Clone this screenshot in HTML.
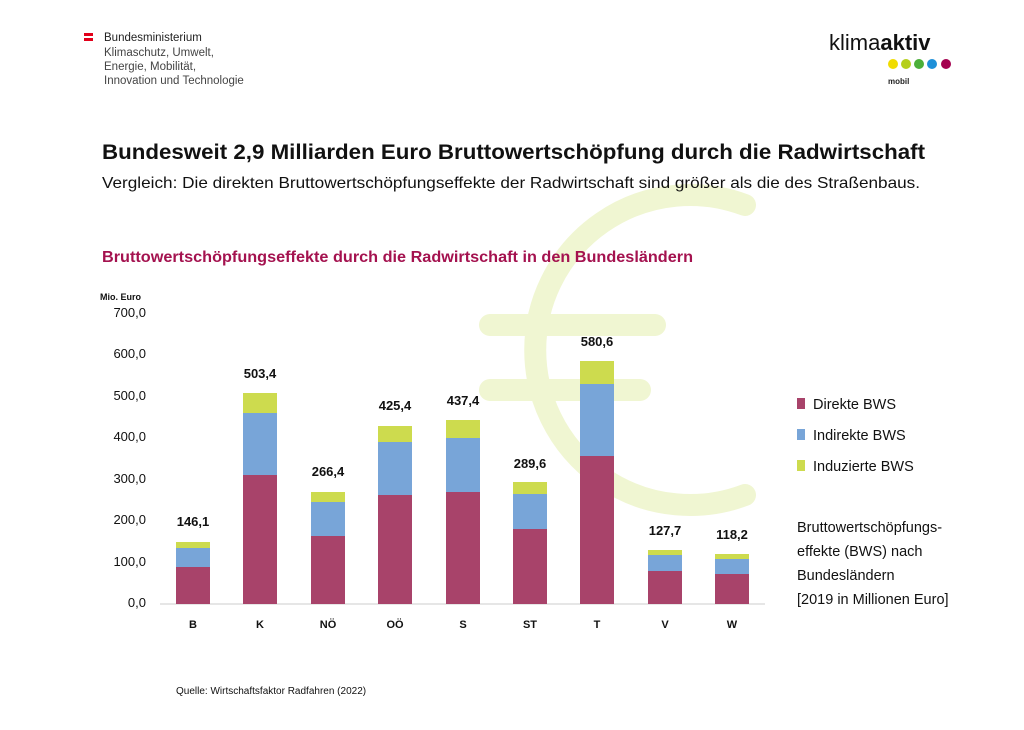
<!DOCTYPE html>
<html><head><meta charset="utf-8"><style>
body{margin:0;width:1024px;height:725px;background:#fff;overflow:hidden;font-family:"Liberation Sans",sans-serif}
</style></head><body>
<svg width="1024" height="725" xmlns="http://www.w3.org/2000/svg" font-family="Liberation Sans, sans-serif">
<g fill="none" stroke="#f0f6d2" stroke-width="22" stroke-linecap="round">
<path d="M745,205 A155,155 0 1 0 745,495"/>
<line x1="490" y1="325" x2="655" y2="325"/>
<line x1="490" y1="390" x2="640" y2="390"/>
</g>
<rect x="84" y="33" width="9" height="3" fill="#e2001a"/>
<rect x="84" y="38" width="9" height="3" fill="#e2001a"/>
<text x="104" y="41" font-size="11.5" fill="#222">Bundesministerium</text>
<text x="104" y="56" font-size="11.5" fill="#444">Klimaschutz, Umwelt,</text>
<text x="104" y="70" font-size="11.5" fill="#444">Energie, Mobilität,</text>
<text x="104" y="84" font-size="11.5" fill="#444">Innovation und Technologie</text>
<text x="829" y="50" font-size="22" fill="#111">klima<tspan font-weight="bold">aktiv</tspan></text>
<circle cx="893" cy="64" r="5" fill="#f0dc00"/><circle cx="906" cy="64" r="5" fill="#b5cf1a"/>
<circle cx="919" cy="64" r="5" fill="#4caf3a"/><circle cx="932" cy="64" r="5" fill="#1e90d8"/>
<circle cx="946" cy="64" r="5" fill="#a4004f"/>
<text x="888" y="84" font-size="8" fill="#222" font-weight="bold">mobil</text>
<text x="102" y="159" font-size="21" font-weight="bold" fill="#111" textLength="823" lengthAdjust="spacingAndGlyphs">Bundesweit 2,9 Milliarden Euro Bruttowertschöpfung durch die Radwirtschaft</text>
<text x="102" y="188" font-size="16" fill="#111" textLength="818" lengthAdjust="spacingAndGlyphs">Vergleich: Die direkten Bruttowertschöpfungseffekte der Radwirtschaft sind größer als die des Straßenbaus.</text>
<text x="102" y="262" font-size="15.5" font-weight="bold" fill="#a4124f" textLength="591" lengthAdjust="spacingAndGlyphs">Bruttowertschöpfungseffekte durch die Radwirtschaft in den Bundesländern</text>
<text x="100" y="300" font-size="9" font-weight="bold" fill="#111">Mio. Euro</text>
<g font-size="13" fill="#111" text-anchor="end">
<text x="146" y="317">700,0</text><text x="146" y="358">600,0</text><text x="146" y="400">500,0</text>
<text x="146" y="441">400,0</text><text x="146" y="483">300,0</text><text x="146" y="524">200,0</text>
<text x="146" y="566">100,0</text><text x="146" y="607">0,0</text>
</g>
<line x1="160" y1="604" x2="765" y2="604" stroke="#ddd" stroke-width="1.5"/>
<g>
<rect x="176" y="542" width="34" height="62" fill="#cddb4e"/><rect x="176" y="548" width="34" height="56" fill="#78a5d8"/><rect x="176" y="567" width="34" height="37" fill="#a8436a"/>
<rect x="243" y="393" width="34" height="211" fill="#cddb4e"/><rect x="243" y="413" width="34" height="191" fill="#78a5d8"/><rect x="243" y="475" width="34" height="129" fill="#a8436a"/>
<rect x="311" y="492" width="34" height="112" fill="#cddb4e"/><rect x="311" y="502" width="34" height="102" fill="#78a5d8"/><rect x="311" y="536" width="34" height="68" fill="#a8436a"/>
<rect x="378" y="426" width="34" height="178" fill="#cddb4e"/><rect x="378" y="442" width="34" height="162" fill="#78a5d8"/><rect x="378" y="495" width="34" height="109" fill="#a8436a"/>
<rect x="446" y="420" width="34" height="184" fill="#cddb4e"/><rect x="446" y="438" width="34" height="166" fill="#78a5d8"/><rect x="446" y="492" width="34" height="112" fill="#a8436a"/>
<rect x="513" y="482" width="34" height="122" fill="#cddb4e"/><rect x="513" y="494" width="34" height="110" fill="#78a5d8"/><rect x="513" y="529" width="34" height="75" fill="#a8436a"/>
<rect x="580" y="361" width="34" height="243" fill="#cddb4e"/><rect x="580" y="384" width="34" height="220" fill="#78a5d8"/><rect x="580" y="456" width="34" height="148" fill="#a8436a"/>
<rect x="648" y="550" width="34" height="54" fill="#cddb4e"/><rect x="648" y="555" width="34" height="49" fill="#78a5d8"/><rect x="648" y="571" width="34" height="33" fill="#a8436a"/>
<rect x="715" y="554" width="34" height="50" fill="#cddb4e"/><rect x="715" y="559" width="34" height="45" fill="#78a5d8"/><rect x="715" y="574" width="34" height="30" fill="#a8436a"/>
</g>
<g font-size="13" font-weight="bold" fill="#111" text-anchor="middle">
<text x="193" y="526">146,1</text><text x="260" y="378">503,4</text><text x="328" y="476">266,4</text>
<text x="395" y="410">425,4</text><text x="463" y="405">437,4</text><text x="530" y="468">289,6</text>
<text x="597" y="346">580,6</text><text x="665" y="535">127,7</text><text x="732" y="539">118,2</text>
</g>
<g font-size="11" font-weight="bold" fill="#111" text-anchor="middle">
<text x="193" y="628">B</text><text x="260" y="628">K</text><text x="328" y="628">NÖ</text>
<text x="395" y="628">OÖ</text><text x="463" y="628">S</text><text x="530" y="628">ST</text>
<text x="597" y="628">T</text><text x="665" y="628">V</text><text x="732" y="628">W</text>
</g>
<rect x="797" y="398" width="8" height="11" fill="#a8436a"/>
<rect x="797" y="429" width="8" height="11" fill="#78a5d8"/>
<rect x="797" y="460" width="8" height="11" fill="#cddb4e"/>
<g font-size="14.5" fill="#111">
<text x="813" y="409">Direkte BWS</text><text x="813" y="440">Indirekte BWS</text><text x="813" y="471">Induzierte BWS</text>
<text x="797" y="532">Bruttowertschöpfungs-</text><text x="797" y="556">effekte (BWS) nach</text>
<text x="797" y="580">Bundesländern</text><text x="797" y="604">[2019 in Millionen Euro]</text>
</g>
<text x="176" y="694" font-size="10" fill="#111">Quelle: Wirtschaftsfaktor Radfahren (2022)</text>
</svg>
</body></html>
